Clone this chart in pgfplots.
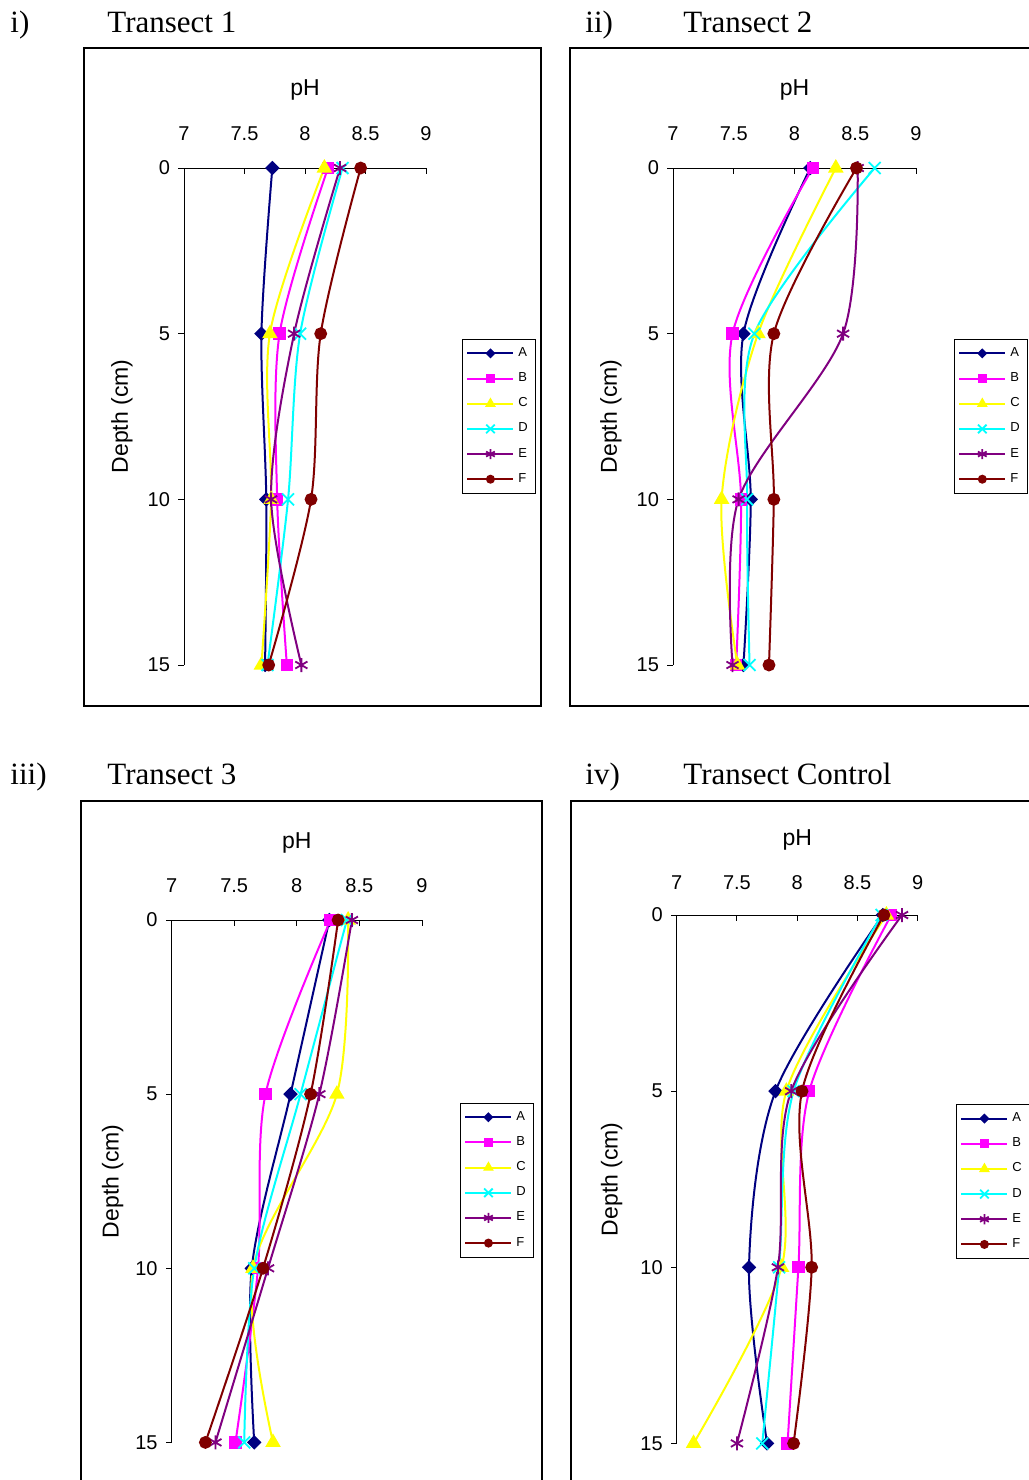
\documentclass[border=0pt]{standalone}
\usepackage{fontspec}
\setmainfont{Liberation Serif}
\setsansfont{Liberation Sans}
\usepackage{pgfplots}
\pgfplotsset{compat=1.18}

\definecolor{cA}{RGB}{0,0,128}
\definecolor{cB}{RGB}{255,0,255}
\definecolor{cC}{RGB}{255,255,0}
\definecolor{cD}{RGB}{0,255,255}
\definecolor{cE}{RGB}{128,0,128}
\definecolor{cF}{RGB}{128,0,0}

\pgfplotsset{
 panel/.style={
   scale only axis,
   xmin=7, xmax=9, ymin=0, ymax=15, y dir=reverse,
   axis x line*=top, axis y line*=left,
   axis line style={line width=0.5pt, -},
   xtick={7,7.5,8,8.5,9}, ytick={0,5,10,15},
   major tick length=0pt,
   /pgf/number format/assume math mode=true,
   ticklabel style={font=\sffamily\fontsize{10}{12}\selectfont},
   yticklabel style={xshift=-3.5pt},
   anchor=center,
   clip=false,
   legend cell align=left,
   legend style={font=\sffamily\fontsize{6.5}{7.5}\selectfont, draw=black, inner sep=2pt, row sep=2.6pt, anchor=north west,
     /tikz/every even column/.append style={column sep=1.5pt}},
   legend image code/.code={
     \draw[#1, mark=none, line width=1pt] (0pt,0pt) -- (23pt,0pt);
     \draw[#1, line width=0.6pt, every mark/.append style={scale=0.72}] plot coordinates {(11.5pt,0pt)};
   },
   every axis plot/.append style={line width=1pt, smooth, tension=0.5},
 },
 sA/.style={color=cA, mark=square*, mark size=2.05pt, mark options={solid, fill=cA, rotate=45}},
 sB/.style={color=cB, mark=square*, mark size=2.6pt, mark options={solid, fill=cB}},
 sC/.style={color=cC, mark=triangle*, mark size=3.5pt, mark options={solid, fill=cC}},
 sD/.style={color=cD, mark=x, mark size=4.2pt, mark options={solid, line width=0.9pt}},
 sE/.style={color=cE, mark=asterisk, mark size=3.5pt, mark options={solid, line width=0.9pt}},
 sF/.style={color=cF, mark=*, mark size=2.7pt, mark options={solid, fill=cF}},
}

\newcommand\panelticks{%
  \draw[line width=0.5pt] (axis cs:7.5,0) -- ([yshift=-3pt]axis cs:7.5,0);
  \draw[line width=0.5pt] (axis cs:8,0) -- ([yshift=-3pt]axis cs:8,0);
  \draw[line width=0.5pt] (axis cs:8.5,0) -- ([yshift=-3pt]axis cs:8.5,0);
  \draw[line width=0.5pt] (axis cs:9,0) -- ([yshift=-3pt]axis cs:9,0);
  \draw[line width=0.5pt] (axis cs:7,0) -- ([xshift=-3pt]axis cs:7,0);
  \draw[line width=0.5pt] (axis cs:7,5) -- ([xshift=-3pt]axis cs:7,5);
  \draw[line width=0.5pt] (axis cs:7,10) -- ([xshift=-3pt]axis cs:7,10);
  \draw[line width=0.5pt] (axis cs:7,15) -- ([xshift=-3pt]axis cs:7,15);
}
\newcommand\panellabels[2]{%
  \node[font=\sffamily\fontsize{11.5}{13}\selectfont, rotate=90] at ([xshift=-#1]axis description cs:0,0.5) {Depth (cm)};
  \node[font=\sffamily\fontsize{11.5}{13}\selectfont] at ([yshift=#2]axis description cs:0.5,1) {pH};
}

\begin{document}
\begin{tikzpicture}
\useasboundingbox (0,0) rectangle (514.5pt,-740pt);
\clip (0,0) rectangle (514.5pt,-740pt);

% panel frames
\draw[line width=0.6pt] (42pt,-24pt) rectangle (270.5pt,-353pt);
\draw[line width=0.6pt] (285pt,-24pt) rectangle (525pt,-353pt);
\draw[line width=0.6pt] (40.5pt,-400.5pt) rectangle (271pt,-750pt);
\draw[line width=0.6pt] (285.5pt,-400.5pt) rectangle (525pt,-750pt);

% titles
\begin{scope}[every node/.style={font=\fontsize{15.5}{18}\selectfont, anchor=base west, inner sep=0pt}]
\node at (5pt,-16pt) {i)};
\node at (53.5pt,-16pt) {Transect 1};
\node at (292.5pt,-16pt) {ii)};
\node at (341.5pt,-16pt) {Transect 2};
\node at (5pt,-392pt) {iii)};
\node at (53.5pt,-392pt) {Transect 3};
\node at (292.5pt,-392pt) {iv)};
\node at (341.5pt,-392pt) {Transect Control};
\end{scope}

% Panel i
\begin{axis}[panel, at={(152.5pt,-208.25pt)}, width=121pt, height=248.5pt,
  xticklabel style={anchor=base, yshift=13.9pt},
  legend style={at={(axis description cs:1.149,0.656)}}]
\addplot[sA] coordinates {(7.73,0) (7.64,5) (7.68,10) (7.67,15)};
\addplot[sB] coordinates {(8.19,0) (7.79,5) (7.77,10) (7.85,15)};
\addplot[sC] coordinates {(8.16,0) (7.71,5) (7.72,10) (7.64,15)};
\addplot[sD] coordinates {(8.31,0) (7.96,5) (7.86,10) (7.69,15)};
\addplot[sE] coordinates {(8.29,0) (7.91,5) (7.72,10) (7.97,15)};
\addplot[sF] coordinates {(8.46,0) (8.13,5) (8.05,10) (7.70,15)};
\legend{A,B,C,D,E,F}
\panelticks
\panellabels{31pt}{39pt}
\end{axis}

% Panel ii
\begin{axis}[panel, at={(397.25pt,-208.25pt)}, width=121.5pt, height=248.5pt,
  xticklabel style={anchor=base, yshift=13.9pt},
  legend style={at={(axis description cs:1.156,0.656)}}]
\addplot[sA] coordinates {(8.13,0) (7.58,5) (7.64,10) (7.58,15)};
\addplot[sB] coordinates {(8.15,0) (7.49,5) (7.56,10) (7.52,15)};
\addplot[sC] coordinates {(8.34,0) (7.70,5) (7.40,10) (7.53,15)};
\addplot[sD] coordinates {(8.66,0) (7.67,5) (7.61,10) (7.63,15)};
\addplot[sE] coordinates {(8.52,0) (8.40,5) (7.54,10) (7.49,15)};
\addplot[sF] coordinates {(8.51,0) (7.83,5) (7.83,10) (7.79,15)};
\legend{A,B,C,D,E,F}
\panelticks
\panellabels{31pt}{39pt}
\end{axis}

% Panel iii
\begin{axis}[panel, at={(148.4pt,-590.6pt)}, width=125.2pt, height=261.2pt,
  xticklabel style={anchor=base, yshift=13.9pt},
  legend style={at={(axis description cs:1.152,0.650)}}]
\addplot[sA] coordinates {(8.26,0) (7.95,5) (7.64,10) (7.66,15)};
\addplot[sB] coordinates {(8.27,0) (7.75,5) (7.69,10) (7.51,15)};
\addplot[sC] coordinates {(8.41,0) (8.32,5) (7.65,10) (7.81,15)};
\addplot[sD] coordinates {(8.40,0) (8.03,5) (7.66,10) (7.58,15)};
\addplot[sE] coordinates {(8.44,0) (8.18,5) (7.77,10) (7.35,15)};
\addplot[sF] coordinates {(8.33,0) (8.11,5) (7.73,10) (7.27,15)};
\legend{A,B,C,D,E,F}
\panelticks
\panellabels{29.5pt}{38.5pt}
\end{axis}

% Panel iv
\begin{axis}[panel, at={(398.6pt,-589.6pt)}, width=120.5pt, height=264.2pt,
  xticklabel style={anchor=base, yshift=13pt},
  legend style={at={(axis description cs:1.159,0.642)}}]
\addplot[sA] coordinates {(8.71,0) (7.82,5) (7.60,10) (7.75,15)};
\addplot[sB] coordinates {(8.78,0) (8.10,5) (8.01,10) (7.92,15)};
\addplot[sC] coordinates {(8.74,0) (7.91,5) (7.87,10) (7.14,15)};
\addplot[sD] coordinates {(8.70,0) (7.97,5) (7.85,10) (7.71,15)};
\addplot[sE] coordinates {(8.87,0) (7.95,5) (7.84,10) (7.50,15)};
\addplot[sF] coordinates {(8.72,0) (8.04,5) (8.12,10) (7.97,15)};
\legend{A,B,C,D,E,F}
\panelticks
\panellabels{32.5pt}{37.5pt}
\end{axis}
\end{tikzpicture}
\end{document}
